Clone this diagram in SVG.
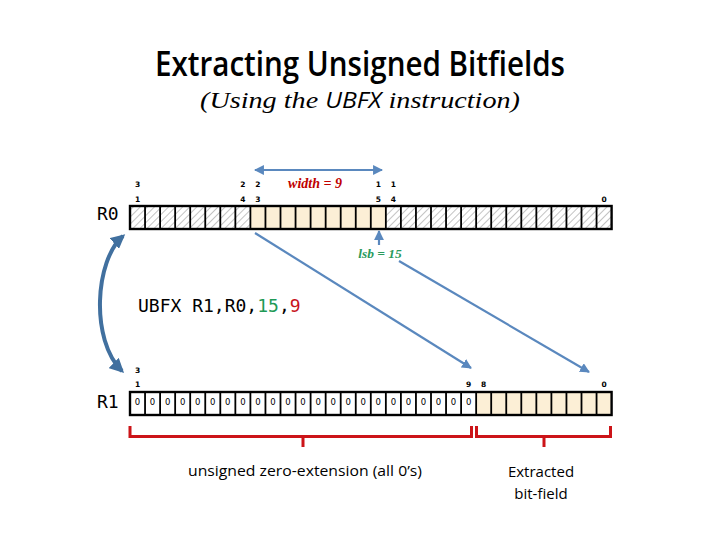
<svg xmlns="http://www.w3.org/2000/svg" width="720" height="540" viewBox="0 0 720 540">
<style>
.bit{font-family:"DejaVu Sans",sans-serif;font-size:7.5px;font-weight:bold;fill:#000;text-anchor:middle}
.zero{font-family:"DejaVu Sans",sans-serif;font-size:8.5px;fill:#000;text-anchor:middle}
.reg{font-family:"DejaVu Sans Mono","Liberation Mono",monospace;font-size:18px;fill:#000}
.cell{stroke:#000;stroke-width:1.8;fill:none}
.box{stroke:#000;stroke-width:2.4;fill:none}
.blue{stroke:#5A88BE;stroke-width:2.2;fill:none}
.brk{stroke:#CC1418;stroke-width:3;fill:none}
.lbl{font-family:"Open Sans","Liberation Sans",sans-serif;font-size:15px;fill:#000}
</style>
<defs>
<pattern id="hatch" patternUnits="userSpaceOnUse" width="5" height="5" patternTransform="rotate(45)">
<rect width="5" height="5" fill="#fff"/>
<line x1="0" y1="0" x2="0" y2="5" stroke="#B4B4B4" stroke-width="1.6"/>
</pattern>
<marker id="ah" viewBox="0 0 10 10" refX="9" refY="5" markerWidth="4.5" markerHeight="4.5" orient="auto-start-reverse">
<path d="M0 0L10 5L0 10z" fill="#5A88BE"/>
</marker>
<marker id="ahb" viewBox="0 0 10 10" refX="8" refY="5" markerWidth="3.6" markerHeight="3.6" orient="auto-start-reverse">
<path d="M0 0L10 5L0 10z" fill="#41709F"/>
</marker>
</defs>

<g id="title">
<text x="360" y="76" text-anchor="middle" font-family="'Open Sans','Liberation Sans',sans-serif" font-size="35" font-weight="600" textLength="410" lengthAdjust="spacingAndGlyphs" fill="#000">Extracting Unsigned Bitfields</text>
<text x="360" y="108" text-anchor="middle" font-family="'Liberation Serif',serif" font-style="italic" font-size="24" textLength="320" lengthAdjust="spacingAndGlyphs" fill="#000">(Using the <tspan font-family="'Open Sans','Liberation Sans',sans-serif" font-size="21">UBFX</tspan> instruction)</text>
</g>

<g id="R0">
<text class="reg" x="97" y="220">R0</text>
<rect x="130" y="206" width="120.4" height="23" fill="url(#hatch)"/>
<rect x="250.4" y="206" width="135.45" height="23" fill="#FCEFD6"/>
<rect x="385.85" y="206" width="225.75" height="23" fill="url(#hatch)"/>
<path class="cell" d="M145.05 206V229M160.1 206V229M175.15 206V229M190.2 206V229M205.25 206V229M220.3 206V229M235.35 206V229M250.4 206V229M265.45 206V229M280.5 206V229M295.55 206V229M310.6 206V229M325.65 206V229M340.7 206V229M355.75 206V229M370.8 206V229M385.85 206V229M400.9 206V229M415.95 206V229M431 206V229M446.05 206V229M461.1 206V229M476.15 206V229M491.2 206V229M506.25 206V229M521.3 206V229M536.35 206V229M551.4 206V229M566.45 206V229M581.5 206V229M596.55 206V229"/>
<rect class="box" x="130" y="206" width="481.6" height="23"/>
<text class="bit" x="137.5" y="187">3</text><text class="bit" x="137.5" y="201.5">1</text>
<text class="bit" x="242.9" y="187">2</text><text class="bit" x="242.9" y="201.5">4</text>
<text class="bit" x="257.9" y="187">2</text><text class="bit" x="257.9" y="201.5">3</text>
<text class="bit" x="378.3" y="187">1</text><text class="bit" x="378.3" y="201.5">5</text>
<text class="bit" x="393.4" y="187">1</text><text class="bit" x="393.4" y="201.5">4</text>
<text class="bit" x="604.1" y="201.5">0</text>
</g>

<g id="width-label">
<text x="315" y="188" text-anchor="middle" font-family="'Liberation Serif',serif" font-style="italic" font-weight="bold" font-size="14" fill="#C00000">width = 9</text>
</g>
<g id="lsb-label">
<text x="380" y="258" text-anchor="middle" font-family="'Liberation Serif',serif" font-style="italic" font-weight="bold" font-size="13.5" fill="#2A9A5C">lsb = 15</text>
</g>

<g id="instruction">
<text class="reg" x="138" y="312">UBFX R1,R0,<tspan fill="#1F9A57">15</tspan>,<tspan fill="#C8141C">9</tspan></text>
</g>

<g id="R1">
<text class="reg" x="97" y="408">R1</text>
<rect x="130" y="392" width="346.15" height="23" fill="#fff"/>
<rect x="476.15" y="392" width="135.45" height="23" fill="#FCEFD6"/>
<path class="cell" d="M145.05 392V415M160.1 392V415M175.15 392V415M190.2 392V415M205.25 392V415M220.3 392V415M235.35 392V415M250.4 392V415M265.45 392V415M280.5 392V415M295.55 392V415M310.6 392V415M325.65 392V415M340.7 392V415M355.75 392V415M370.8 392V415M385.85 392V415M400.9 392V415M415.95 392V415M431 392V415M446.05 392V415M461.1 392V415M476.15 392V415M491.2 392V415M506.25 392V415M521.3 392V415M536.35 392V415M551.4 392V415M566.45 392V415M581.5 392V415M596.55 392V415"/>
<rect class="box" x="130" y="392" width="481.6" height="23"/>
<text class="zero" x="137.5" y="405">0</text><text class="zero" x="152.55" y="405">0</text><text class="zero" x="167.6" y="405">0</text><text class="zero" x="182.65" y="405">0</text><text class="zero" x="197.7" y="405">0</text><text class="zero" x="212.75" y="405">0</text><text class="zero" x="227.8" y="405">0</text><text class="zero" x="242.85" y="405">0</text><text class="zero" x="257.9" y="405">0</text><text class="zero" x="272.95" y="405">0</text><text class="zero" x="288" y="405">0</text><text class="zero" x="303.05" y="405">0</text><text class="zero" x="318.1" y="405">0</text><text class="zero" x="333.15" y="405">0</text><text class="zero" x="348.2" y="405">0</text><text class="zero" x="363.25" y="405">0</text><text class="zero" x="378.3" y="405">0</text><text class="zero" x="393.35" y="405">0</text><text class="zero" x="408.4" y="405">0</text><text class="zero" x="423.45" y="405">0</text><text class="zero" x="438.5" y="405">0</text><text class="zero" x="453.55" y="405">0</text><text class="zero" x="468.6" y="405">0</text>
<text class="bit" x="137.5" y="373">3</text><text class="bit" x="137.5" y="386.5">1</text>
<text class="bit" x="468.6" y="386.5">9</text>
<text class="bit" x="483.7" y="386.5">8</text>
<text class="bit" x="604.1" y="386.5">0</text>
</g>

<g id="brackets">
<path class="brk" d="M130 426V436.5H471.5V426M303 436.5V447"/>
<path class="brk" d="M476.5 426V436.5H610.5V426M544 436.5V447"/>
</g>
<g id="bottom-labels">
<text class="lbl" x="305" y="476" text-anchor="middle" textLength="234" lengthAdjust="spacingAndGlyphs">unsigned zero-extension (all 0’s)</text>
<text class="lbl" x="541" y="477" text-anchor="middle">Extracted</text>
<text class="lbl" x="541" y="498.5" text-anchor="middle">bit-field</text>
</g>

<g id="connectors">
<line class="blue" x1="255" y1="170" x2="382" y2="170" stroke-width="2.5" marker-start="url(#ah)" marker-end="url(#ah)"/>
<line class="blue" x1="379" y1="245" x2="379" y2="231" stroke-width="2.5" marker-end="url(#ah)"/>
<line class="blue" x1="255" y1="233" x2="471" y2="368" marker-end="url(#ah)"/>
<line class="blue" x1="399" y1="261" x2="589" y2="372" marker-end="url(#ah)"/>
<path d="M123 236C95 260 90 340 122 371" fill="none" stroke="#41709F" stroke-width="4" marker-start="url(#ahb)" marker-end="url(#ahb)"/>
</g>
</svg>
